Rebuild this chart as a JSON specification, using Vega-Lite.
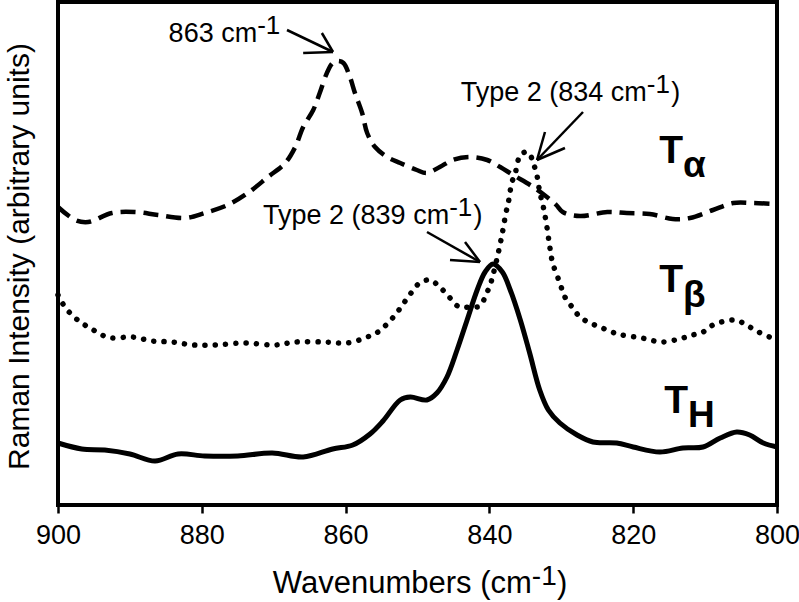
{
  "$schema": "https://vega.github.io/schema/vega-lite/v6.json",
  "width": 719,
  "height": 503,
  "autosize": {"type": "none"},
  "padding": {"left": 58, "top": 2, "right": 22, "bottom": 97},
  "background": "white",
  "config": {"view": {"stroke": "black", "strokeWidth": 4}, "font": "Liberation Sans"},
  "datasets": {
    "spectra": [
      {"series": "Ta", "wavenumber": 900, "intensity": 298},
      {"series": "Ta", "wavenumber": 897.6, "intensity": 285},
      {"series": "Ta", "wavenumber": 895.8, "intensity": 283},
      {"series": "Ta", "wavenumber": 892.5, "intensity": 292},
      {"series": "Ta", "wavenumber": 889.3, "intensity": 293},
      {"series": "Ta", "wavenumber": 886.1, "intensity": 290},
      {"series": "Ta", "wavenumber": 882.3, "intensity": 287},
      {"series": "Ta", "wavenumber": 879.6, "intensity": 292},
      {"series": "Ta", "wavenumber": 876.4, "intensity": 300},
      {"series": "Ta", "wavenumber": 873.6, "intensity": 312},
      {"series": "Ta", "wavenumber": 870.8, "intensity": 328},
      {"series": "Ta", "wavenumber": 868.4, "intensity": 342},
      {"series": "Ta", "wavenumber": 867.0, "intensity": 358},
      {"series": "Ta", "wavenumber": 865.9, "intensity": 378},
      {"series": "Ta", "wavenumber": 864.5, "intensity": 395},
      {"series": "Ta", "wavenumber": 863.6, "intensity": 412},
      {"series": "Ta", "wavenumber": 862.6, "intensity": 432},
      {"series": "Ta", "wavenumber": 861.8, "intensity": 442},
      {"series": "Ta", "wavenumber": 861.1, "intensity": 444},
      {"series": "Ta", "wavenumber": 860.3, "intensity": 442},
      {"series": "Ta", "wavenumber": 859.4, "intensity": 428},
      {"series": "Ta", "wavenumber": 858.7, "intensity": 412},
      {"series": "Ta", "wavenumber": 857.7, "intensity": 392},
      {"series": "Ta", "wavenumber": 857.0, "intensity": 372},
      {"series": "Ta", "wavenumber": 855.9, "intensity": 358},
      {"series": "Ta", "wavenumber": 854.2, "intensity": 348},
      {"series": "Ta", "wavenumber": 852.4, "intensity": 342},
      {"series": "Ta", "wavenumber": 850.1, "intensity": 335},
      {"series": "Ta", "wavenumber": 848.7, "intensity": 332},
      {"series": "Ta", "wavenumber": 846.9, "intensity": 338},
      {"series": "Ta", "wavenumber": 845.1, "intensity": 345},
      {"series": "Ta", "wavenumber": 842.7, "intensity": 348},
      {"series": "Ta", "wavenumber": 840.3, "intensity": 345},
      {"series": "Ta", "wavenumber": 838.5, "intensity": 338},
      {"series": "Ta", "wavenumber": 836.7, "intensity": 330},
      {"series": "Ta", "wavenumber": 833.9, "intensity": 318},
      {"series": "Ta", "wavenumber": 832.0, "intensity": 308},
      {"series": "Ta", "wavenumber": 830.7, "intensity": 300},
      {"series": "Ta", "wavenumber": 829.8, "intensity": 293},
      {"series": "Ta", "wavenumber": 827.4, "intensity": 289},
      {"series": "Ta", "wavenumber": 823.6, "intensity": 293},
      {"series": "Ta", "wavenumber": 820.9, "intensity": 292},
      {"series": "Ta", "wavenumber": 817.7, "intensity": 291},
      {"series": "Ta", "wavenumber": 814.5, "intensity": 286},
      {"series": "Ta", "wavenumber": 812.1, "intensity": 287},
      {"series": "Ta", "wavenumber": 808.9, "intensity": 295},
      {"series": "Ta", "wavenumber": 806.1, "intensity": 302},
      {"series": "Ta", "wavenumber": 803.3, "intensity": 302},
      {"series": "Ta", "wavenumber": 800, "intensity": 301},

      {"series": "Tb", "wavenumber": 900, "intensity": 210},
      {"series": "Tb", "wavenumber": 899.4, "intensity": 202},
      {"series": "Tb", "wavenumber": 898.2, "intensity": 191},
      {"series": "Tb", "wavenumber": 896.7, "intensity": 182},
      {"series": "Tb", "wavenumber": 895.3, "intensity": 176},
      {"series": "Tb", "wavenumber": 893.9, "intensity": 170},
      {"series": "Tb", "wavenumber": 892.5, "intensity": 167},
      {"series": "Tb", "wavenumber": 889.7, "intensity": 168},
      {"series": "Tb", "wavenumber": 886.9, "intensity": 164},
      {"series": "Tb", "wavenumber": 884.1, "intensity": 163},
      {"series": "Tb", "wavenumber": 881.2, "intensity": 160},
      {"series": "Tb", "wavenumber": 878.2, "intensity": 160},
      {"series": "Tb", "wavenumber": 874.0, "intensity": 162},
      {"series": "Tb", "wavenumber": 869.8, "intensity": 160},
      {"series": "Tb", "wavenumber": 867.0, "intensity": 163},
      {"series": "Tb", "wavenumber": 862.9, "intensity": 163},
      {"series": "Tb", "wavenumber": 859.8, "intensity": 162},
      {"series": "Tb", "wavenumber": 857.0, "intensity": 168},
      {"series": "Tb", "wavenumber": 855.5, "intensity": 173},
      {"series": "Tb", "wavenumber": 854.1, "intensity": 182},
      {"series": "Tb", "wavenumber": 852.9, "intensity": 192},
      {"series": "Tb", "wavenumber": 851.9, "intensity": 202},
      {"series": "Tb", "wavenumber": 850.9, "intensity": 212},
      {"series": "Tb", "wavenumber": 849.7, "intensity": 222},
      {"series": "Tb", "wavenumber": 848.3, "intensity": 225},
      {"series": "Tb", "wavenumber": 846.9, "intensity": 218},
      {"series": "Tb", "wavenumber": 845.6, "intensity": 208},
      {"series": "Tb", "wavenumber": 844.2, "intensity": 198},
      {"series": "Tb", "wavenumber": 842.7, "intensity": 198},
      {"series": "Tb", "wavenumber": 841.3, "intensity": 199},
      {"series": "Tb", "wavenumber": 840.5, "intensity": 210},
      {"series": "Tb", "wavenumber": 839.9, "intensity": 220},
      {"series": "Tb", "wavenumber": 839.5, "intensity": 230},
      {"series": "Tb", "wavenumber": 838.8, "intensity": 251},
      {"series": "Tb", "wavenumber": 838.2, "intensity": 272},
      {"series": "Tb", "wavenumber": 837.7, "intensity": 292},
      {"series": "Tb", "wavenumber": 837.3, "intensity": 305},
      {"series": "Tb", "wavenumber": 836.9, "intensity": 322},
      {"series": "Tb", "wavenumber": 836.4, "intensity": 332},
      {"series": "Tb", "wavenumber": 835.7, "intensity": 350},
      {"series": "Tb", "wavenumber": 834.9, "intensity": 353},
      {"series": "Tb", "wavenumber": 834.4, "intensity": 351},
      {"series": "Tb", "wavenumber": 833.9, "intensity": 342},
      {"series": "Tb", "wavenumber": 833.4, "intensity": 330},
      {"series": "Tb", "wavenumber": 833.0, "intensity": 313},
      {"series": "Tb", "wavenumber": 832.5, "intensity": 298},
      {"series": "Tb", "wavenumber": 832.0, "intensity": 278},
      {"series": "Tb", "wavenumber": 831.6, "intensity": 258},
      {"series": "Tb", "wavenumber": 831.2, "intensity": 242},
      {"series": "Tb", "wavenumber": 830.2, "intensity": 222},
      {"series": "Tb", "wavenumber": 829.5, "intensity": 208},
      {"series": "Tb", "wavenumber": 828.5, "intensity": 198},
      {"series": "Tb", "wavenumber": 827.4, "intensity": 188},
      {"series": "Tb", "wavenumber": 826.0, "intensity": 182},
      {"series": "Tb", "wavenumber": 824.6, "intensity": 178},
      {"series": "Tb", "wavenumber": 823.0, "intensity": 173},
      {"series": "Tb", "wavenumber": 821.6, "intensity": 170},
      {"series": "Tb", "wavenumber": 818.8, "intensity": 167},
      {"series": "Tb", "wavenumber": 816.0, "intensity": 163},
      {"series": "Tb", "wavenumber": 813.1, "intensity": 167},
      {"series": "Tb", "wavenumber": 811.7, "intensity": 170},
      {"series": "Tb", "wavenumber": 810.3, "intensity": 173},
      {"series": "Tb", "wavenumber": 808.9, "intensity": 180},
      {"series": "Tb", "wavenumber": 806.1, "intensity": 185},
      {"series": "Tb", "wavenumber": 804.7, "intensity": 182},
      {"series": "Tb", "wavenumber": 803.1, "intensity": 175},
      {"series": "Tb", "wavenumber": 801.0, "intensity": 168},
      {"series": "Tb", "wavenumber": 800, "intensity": 167},

      {"series": "TH", "wavenumber": 900, "intensity": 62},
      {"series": "TH", "wavenumber": 896.7, "intensity": 56},
      {"series": "TH", "wavenumber": 893.5, "intensity": 55},
      {"series": "TH", "wavenumber": 890.0, "intensity": 51},
      {"series": "TH", "wavenumber": 886.5, "intensity": 44},
      {"series": "TH", "wavenumber": 883.3, "intensity": 51},
      {"series": "TH", "wavenumber": 879.6, "intensity": 49},
      {"series": "TH", "wavenumber": 875.0, "intensity": 49},
      {"series": "TH", "wavenumber": 870.2, "intensity": 52},
      {"series": "TH", "wavenumber": 865.9, "intensity": 48},
      {"series": "TH", "wavenumber": 861.8, "intensity": 56},
      {"series": "TH", "wavenumber": 859.0, "intensity": 60},
      {"series": "TH", "wavenumber": 856.6, "intensity": 71},
      {"series": "TH", "wavenumber": 854.8, "intensity": 84},
      {"series": "TH", "wavenumber": 852.4, "intensity": 105},
      {"series": "TH", "wavenumber": 851.0, "intensity": 108},
      {"series": "TH", "wavenumber": 848.7, "intensity": 105},
      {"series": "TH", "wavenumber": 847.3, "intensity": 112},
      {"series": "TH", "wavenumber": 845.9, "intensity": 128},
      {"series": "TH", "wavenumber": 844.5, "intensity": 155},
      {"series": "TH", "wavenumber": 843.1, "intensity": 185},
      {"series": "TH", "wavenumber": 841.7, "intensity": 215},
      {"series": "TH", "wavenumber": 840.6, "intensity": 233},
      {"series": "TH", "wavenumber": 839.5, "intensity": 241},
      {"series": "TH", "wavenumber": 838.2, "intensity": 233},
      {"series": "TH", "wavenumber": 837.1, "intensity": 215},
      {"series": "TH", "wavenumber": 835.7, "intensity": 185},
      {"series": "TH", "wavenumber": 834.4, "intensity": 152},
      {"series": "TH", "wavenumber": 833.0, "intensity": 115},
      {"series": "TH", "wavenumber": 831.8, "intensity": 95},
      {"series": "TH", "wavenumber": 830.2, "intensity": 82},
      {"series": "TH", "wavenumber": 827.8, "intensity": 70},
      {"series": "TH", "wavenumber": 825.6, "intensity": 63},
      {"series": "TH", "wavenumber": 822.3, "intensity": 62},
      {"series": "TH", "wavenumber": 820.0, "intensity": 58},
      {"series": "TH", "wavenumber": 816.3, "intensity": 53},
      {"series": "TH", "wavenumber": 813.1, "intensity": 57},
      {"series": "TH", "wavenumber": 810.3, "intensity": 58},
      {"series": "TH", "wavenumber": 807.9, "intensity": 67},
      {"series": "TH", "wavenumber": 805.6, "intensity": 73},
      {"series": "TH", "wavenumber": 803.8, "intensity": 70},
      {"series": "TH", "wavenumber": 801.9, "intensity": 62},
      {"series": "TH", "wavenumber": 800, "intensity": 58}
    ],
    "arrows": [
      {"wavenumber": 868.15, "intensity": 475, "wavenumber2": 861.75, "intensity2": 453},
      {"wavenumber": 861.75, "intensity": 453, "wavenumber2": 865.9, "intensity2": 452},
      {"wavenumber": 861.75, "intensity": 453, "wavenumber2": 863.3, "intensity2": 472},
      {"wavenumber": 848.68, "intensity": 273, "wavenumber2": 841.31, "intensity2": 243},
      {"wavenumber": 841.31, "intensity": 243, "wavenumber2": 845.48, "intensity2": 245},
      {"wavenumber": 841.31, "intensity": 243, "wavenumber2": 843.39, "intensity2": 263},
      {"wavenumber": 826.98, "intensity": 393, "wavenumber2": 833.38, "intensity2": 345},
      {"wavenumber": 833.38, "intensity": 345, "wavenumber2": 829.49, "intensity2": 357},
      {"wavenumber": 833.38, "intensity": 345, "wavenumber2": 832.27, "intensity2": 373}
    ],
    "notes": [
      {"wavenumber": 872.3, "intensity": 463, "label": "863 cm"},
      {"wavenumber": 845.6, "intensity": 281, "label": "Type 2 (839 cm"},
      {"wavenumber": 818.1, "intensity": 404, "label": "Type 2 (834 cm"}
    ],
    "notesSup": [
      {"wavenumber": 872.3, "intensity": 471, "label": "-1"},
      {"wavenumber": 845.6, "intensity": 289, "label": "-1"},
      {"wavenumber": 818.1, "intensity": 412, "label": "-1"}
    ],
    "notesParen": [
      {"wavenumber": 842.2, "intensity": 281, "label": ")"},
      {"wavenumber": 814.7, "intensity": 404, "label": ")"}
    ],
    "seriesT": [
      {"wavenumber": 813.07, "intensity": 342, "label": "T"},
      {"wavenumber": 813.07, "intensity": 213, "label": "T"},
      {"wavenumber": 812.38, "intensity": 92, "label": "T"}
    ],
    "seriesSub": [
      {"wavenumber": 813.07, "intensity": 328, "label": "α"},
      {"wavenumber": 813.07, "intensity": 198, "label": "β"},
      {"wavenumber": 812.38, "intensity": 78, "label": "H"}
    ],
    "xTitle": [
      {"wavenumber": 834.1, "intensity": -88, "label": "Wavenumbers (cm"}
    ],
    "xTitleSup": [
      {"wavenumber": 834.1, "intensity": -80, "label": "-1"}
    ],
    "xTitleParen": [
      {"wavenumber": 830.6, "intensity": -88, "label": ")"}
    ]
  },
  "encoding": {
    "x": {
      "field": "wavenumber",
      "type": "quantitative",
      "scale": {"domain": [800, 900], "reverse": true, "nice": false, "zero": false},
      "axis": {
        "title": null,
        "values": [900, 880, 860, 840, 820, 800],
        "format": "d",
        "labelFontSize": 27,
        "labelFont": "Liberation Sans",
        "labelColor": "black",
        "labelBaseline": "alphabetic",
        "labelPadding": 30,
        "labelFlush": false,
        "labelOverlap": false,
        "tickColor": "black",
        "tickSize": 8,
        "tickWidth": 2.5,
        "domain": false,
        "grid": false
      }
    },
    "y": {
      "field": "intensity",
      "type": "quantitative",
      "scale": {"domain": [0, 503], "nice": false, "zero": false},
      "axis": {
        "title": "Raman Intensity (arbitrary units)",
        "titleFont": "Liberation Sans",
        "titleFontSize": 30,
        "titleFontWeight": "normal",
        "titleColor": "black",
        "titleAngle": -90,
        "titleAlign": "center",
        "titleBaseline": "alphabetic",
        "titleX": -30,
        "titleY": 254,
        "labels": false,
        "ticks": false,
        "domain": false,
        "grid": false
      }
    }
  },
  "layer": [
    {
      "data": {"name": "spectra"},
      "transform": [{"filter": "datum.series === 'Ta'"}],
      "mark": {"type": "line", "interpolate": "catmull-rom", "color": "black", "strokeWidth": 4.5, "strokeDash": [15, 8]}
    },
    {
      "data": {"name": "spectra"},
      "transform": [{"filter": "datum.series === 'Tb'"}],
      "mark": {"type": "line", "interpolate": "catmull-rom", "color": "black", "strokeWidth": 5.5, "strokeCap": "round", "strokeDash": [0.1, 10.2]}
    },
    {
      "data": {"name": "spectra"},
      "transform": [{"filter": "datum.series === 'TH'"}],
      "mark": {"type": "line", "interpolate": "catmull-rom", "color": "black", "strokeWidth": 5}
    },
    {
      "data": {"name": "arrows"},
      "mark": {"type": "rule", "color": "black", "strokeWidth": 2.5},
      "encoding": {
        "x2": {"field": "wavenumber2"},
        "y2": {"field": "intensity2"}
      }
    },
    {
      "data": {"name": "notes"},
      "mark": {"type": "text", "align": "right", "baseline": "alphabetic", "fontSize": 27, "font": "Liberation Sans", "color": "black"},
      "encoding": {"text": {"field": "label"}}
    },
    {
      "data": {"name": "notesSup"},
      "mark": {"type": "text", "align": "left", "baseline": "alphabetic", "fontSize": 26, "font": "Liberation Sans", "color": "black"},
      "encoding": {"text": {"field": "label"}}
    },
    {
      "data": {"name": "notesParen"},
      "mark": {"type": "text", "align": "left", "baseline": "alphabetic", "fontSize": 27, "font": "Liberation Sans", "color": "black"},
      "encoding": {"text": {"field": "label"}}
    },
    {
      "data": {"name": "seriesT"},
      "mark": {"type": "text", "align": "right", "baseline": "alphabetic", "fontSize": 39, "fontWeight": "bold", "font": "Liberation Sans", "color": "black"},
      "encoding": {"text": {"field": "label"}}
    },
    {
      "data": {"name": "seriesSub"},
      "mark": {"type": "text", "align": "left", "baseline": "alphabetic", "fontSize": 37, "fontWeight": "bold", "font": "Liberation Sans", "color": "black"},
      "encoding": {"text": {"field": "label"}}
    },
    {
      "data": {"name": "xTitle"},
      "mark": {"type": "text", "align": "right", "baseline": "alphabetic", "fontSize": 31, "font": "Liberation Sans", "color": "black"},
      "encoding": {"text": {"field": "label"}}
    },
    {
      "data": {"name": "xTitleSup"},
      "mark": {"type": "text", "align": "left", "baseline": "alphabetic", "fontSize": 28, "font": "Liberation Sans", "color": "black"},
      "encoding": {"text": {"field": "label"}}
    },
    {
      "data": {"name": "xTitleParen"},
      "mark": {"type": "text", "align": "left", "baseline": "alphabetic", "fontSize": 31, "font": "Liberation Sans", "color": "black"},
      "encoding": {"text": {"field": "label"}}
    }
  ]
}
